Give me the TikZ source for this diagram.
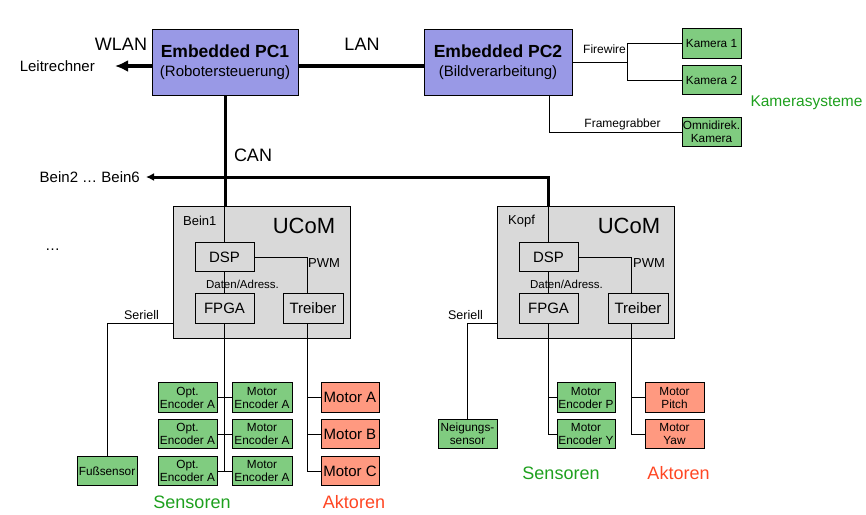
\documentclass[tikz,border=0pt]{standalone}
\usepackage{fontspec}
\setmainfont{Liberation Sans}
\usepackage{xcolor}
\definecolor{pcViolet}{RGB}{153,153,230}
\definecolor{ucomGray}{RGB}{217,217,217}
\definecolor{sensGreen}{RGB}{128,204,128}
\definecolor{aktSalmon}{RGB}{255,153,128}
\definecolor{labGreen}{RGB}{30,160,30}
\definecolor{labRed}{RGB}{255,70,35}
\usepackage{tikz}
\usetikzlibrary{positioning,arrows.meta}
\tikzset{
  pcbox/.style={rectangle,draw=black,line width=0.8pt,fill=pcViolet,
    minimum width=#1,minimum height=66pt,align=center,inner sep=1pt,
    font=\fontsize{15}{18}\selectfont},
  pcbox/.default=146pt,
  ucombox/.style={rectangle,draw=black,line width=0.8pt,fill=ucomGray,
    minimum width=177pt,minimum height=132pt},
  unitbox/.style={rectangle,draw=black,line width=0.8pt,fill=ucomGray,
    minimum width=#1,minimum height=29.5pt,inner sep=1pt,
    font=\fontsize{15}{17}\selectfont},
  unitbox/.default=59pt,
  sensbox/.style={rectangle,draw=black,line width=0.8pt,fill=sensGreen,
    minimum width=#1,minimum height=29.5pt,inner sep=1pt,align=center,
    font=\fontsize{11.8}{13}\selectfont},
  sensbox/.default=59pt,
  aktbox/.style={sensbox=#1,fill=aktSalmon},
  aktbox/.default=59pt,
  bus/.style={line width=4pt},
  canbus/.style={line width=3pt},
  link/.style={line width=0.9pt},
  buslabel/.style={font=\fontsize{18}{20}\selectfont,inner sep=0pt},
  note/.style={font=\fontsize{12.5}{14}\selectfont,inner sep=0pt},
  grouplabel/.style={font=\fontsize{18}{20}\selectfont,text=#1,inner sep=0pt}
}

\begin{document}
\begin{tikzpicture}[x=1pt,y=-1pt]
  \useasboundingbox (0,0) rectangle (866,514);
  % rechner
  \node[pcbox] (pc1) at (225,62)
    {{\bfseries\fontsize{17.5}{20}\selectfont Embedded PC1}\\[1pt](Robotersteuerung)};
  \node[pcbox=148pt] (pc2) at (498,62)
    {{\bfseries\fontsize{17.5}{20}\selectfont Embedded PC2}\\[1pt](Bildverarbeitung)};
  \coordinate (wlanEnd) at (115,66);
  \node[font=\fontsize{15}{17}\selectfont, inner sep=0pt, left=20pt of wlanEnd] (leit) {Leitrechner};
  \node[buslabel] (wlan) at (121,44) {WLAN};
  \node[buslabel] (lan) at (362,44) {LAN};
  \node[buslabel] (can) at (253,155) {CAN};
  % kameras
  \node[sensbox] (kam1) at (711.5,43.5) {Kamera 1};
  \node[sensbox] (kam2) at (711.5,80) {Kamera 2};
  \node[sensbox] (omni) at (711.5,132) {Omnidirek.\\Kamera};
  \node[grouplabel=labGreen, font=\fontsize{15.5}{17}\selectfont] (kamsys) at (806.5,103) {Kamerasysteme};
  \coordinate (fwSplit) at (627,62);
  \node[note, font=\fontsize{12}{14}\selectfont] (fwlbl) at (604.5,49) {Firewire};
  \node[note, font=\fontsize{12}{14}\selectfont] (fglbl) at (622.5,124) {Framegrabber};
  % ucom bein1
  \node[ucombox] (bein1) at (261.5,272) {};
  \node[font=\fontsize{22}{24}\selectfont, inner sep=0pt] (ucom1) at (304,226) {UCoM};
  \node[note, font=\fontsize{13}{15}\selectfont, anchor=west] (bein1lbl) at (183,221) {Bein1};
  \node[unitbox] (dsp1) at (224.5,257) {DSP};
  \node[unitbox] (fpga1) at (224.5,308.5) {FPGA};
  \node[unitbox=60pt] (treiber1) at (313,308.5) {Treiber};
  \node[note, font=\fontsize{11.5}{13}\selectfont] (da1) at (242.5,284) {Daten/Adress.};
  \node[note, font=\fontsize{13}{15}\selectfont, anchor=west] (pwm1) at (308,263) {PWM};
  % ucom kopf
  \node[ucombox] (kopf) at (585.5,272) {};
  \node[font=\fontsize{22}{24}\selectfont, inner sep=0pt] (ucom2) at (629,226) {UCoM};
  \node[note, font=\fontsize{13}{15}\selectfont, anchor=west] (kopflbl) at (508,221) {Kopf};
  \node[unitbox] (dsp2) at (548.5,257) {DSP};
  \node[unitbox] (fpga2) at (548.5,308.5) {FPGA};
  \node[unitbox=60pt] (treiber2) at (638,308.5) {Treiber};
  \node[note, font=\fontsize{11.5}{13}\selectfont] (da2) at (566.5,284) {Daten/Adress.};
  \node[note, font=\fontsize{13}{15}\selectfont, anchor=west] (pwm2) at (633,263) {PWM};
  % can bus
  \coordinate (canEnd) at (146,177);
  \node[font=\fontsize{15}{17}\selectfont, inner sep=0pt, left=6pt of canEnd] (beinRest) {Bein2 … Bein6};
  \node[font=\fontsize{15}{17}\selectfont, anchor=base] (dots) at (52.5,250) {…};
  \node[note, font=\fontsize{12.5}{14}\selectfont] (ser1) at (141.5,315) {Seriell};
  \node[note, font=\fontsize{12.5}{14}\selectfont] (ser2) at (465.5,315) {Seriell};
  % sensoren und aktoren bein1
  \foreach \i/\y in {1/397.5,2/434,3/471} {
    \node[sensbox] (opt\i) at (187.5,\y) {Opt.\\Encoder A};
    \node[sensbox=60pt] (menc\i) at (262,\y) {Motor\\Encoder A};
  }
  \node[aktbox=58pt, font=\fontsize{15}{17}\selectfont] (motA) at (350,397.5) {Motor A};
  \node[aktbox=58pt, font=\fontsize{15}{17}\selectfont] (motB) at (350,434) {Motor B};
  \node[aktbox=58pt, font=\fontsize{15}{17}\selectfont] (motC) at (350,471) {Motor C};
  \node[sensbox=60pt] (fuss) at (107,471) {Fußsensor};
  \node[grouplabel=labGreen] (sens1) at (192,502) {Sensoren};
  \node[grouplabel=labRed] (akt1) at (354,502) {Aktoren};
  % sensoren und aktoren kopf
  \node[sensbox] (neig) at (467.5,434) {Neigungs-\\sensor};
  \node[sensbox=58pt] (mencP) at (586,397.5) {Motor\\Encoder P};
  \node[sensbox=58pt] (mencY) at (586,434) {Motor\\Encoder Y};
  \node[aktbox] (pitch) at (674.5,397.5) {Motor\\Pitch};
  \node[aktbox] (yaw) at (674.5,434) {Motor\\Yaw};
  \node[grouplabel=labGreen] (sens2) at (561,473) {Sensoren};
  \node[grouplabel=labRed] (akt2) at (678.5,473) {Aktoren};

  % verbindungen
  \draw[bus,-{Latex[length=13pt,width=12pt]}] (pc1.west |- wlanEnd) -- (wlanEnd);
  \draw[bus] ([yshift=-4pt]pc1.east) -- ([yshift=-4pt]pc2.west);
  \draw[link] (pc2.east) -- (fwSplit);
  \draw[link] (fwSplit) |- (kam1.west);
  \draw[link] (fwSplit) |- (kam2.west);
  \draw[link] ([xshift=51pt]pc2.south) |- (omni.west);
  \draw[canbus] (pc1.south) -- (pc1.south |- bein1.north);
  \draw[canbus,-{Latex[length=8pt,width=8pt]}] (dsp2 |- kopf.north) |- (canEnd);
  \foreach \u in {1,2} {
    \draw[link] (dsp\u |- bein1.north) -- (dsp\u.north);
    \draw[link] (dsp\u.south) -- (fpga\u.north);
  }
  \draw[link] (dsp1.east) -| ([xshift=-6pt]treiber1.north);
  \draw[link] (dsp2.east) -| ([xshift=-7pt]treiber2.north);
  \draw[link] (bein1.west |- fpga1.south) -| (fuss.north);
  \draw[link] (kopf.west |- fpga2.south) -| (neig.north);
  \draw[link] (fpga1.south) -- (fpga1.south |- opt3.east);
  \foreach \i in {1,2,3}
    \draw[link] (opt\i.east) -- (menc\i.west);
  \foreach \m in {motA,motB,motC}
    \draw[link] ([xshift=-6pt]treiber1.south) |- (\m.west);
  \foreach \m in {mencP,mencY}
    \draw[link] (fpga2.south) |- (\m.west);
  \foreach \m in {pitch,yaw}
    \draw[link] ([xshift=-7pt]treiber2.south) |- (\m.west);
\end{tikzpicture}
\end{document}
